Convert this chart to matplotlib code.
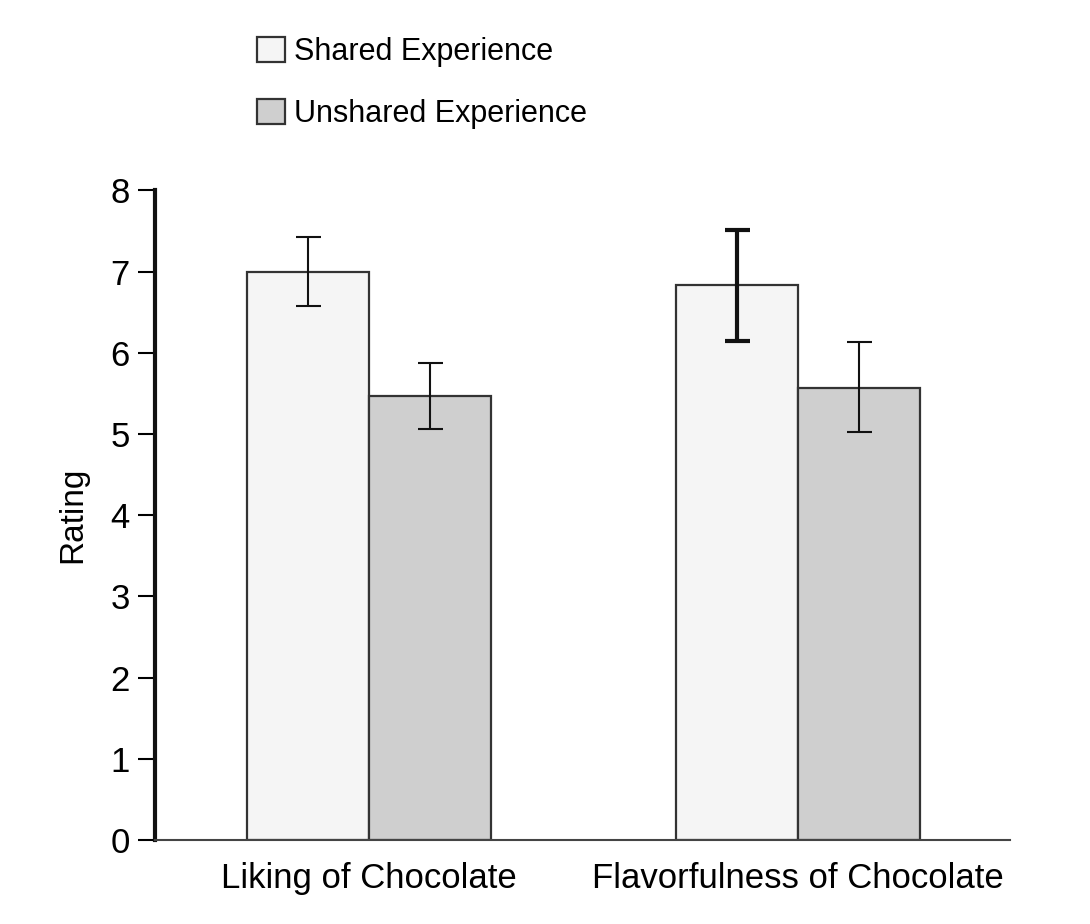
import matplotlib
matplotlib.use("Agg")
import matplotlib.pyplot as plt
import numpy as np
from matplotlib.patches import Patch

categories = ["Liking of Chocolate", "Flavorfulness of Chocolate"]
series = ["Shared Experience", "Unshared Experience"]
shared = [7.0, 6.84]
unshared = [5.47, 5.56]
shared_err_hi = [7.43, 7.51]
shared_err_lo = [6.57, 6.15]
unshared_err_hi = [5.87, 6.13]
unshared_err_lo = [5.06, 5.02]
yticks = [0, 1, 2, 3, 4, 5, 6, 7, 8]

plt.rcParams['font.family'] = ['Liberation Sans', 'DejaVu Sans']

fig = plt.figure(figsize=(10.9, 9.24), dpi=100)
ax = fig.add_axes([0.142, 0.091, 0.785, 0.703])

x = np.arange(len(categories))
w = 0.284
c_sh = "#f5f5f5"
c_un = "#cfcfcf"
ec = "#333333"

ax.bar(x - w/2, shared, w, color=c_sh, edgecolor=ec, linewidth=1.6, zorder=2)
ax.bar(x + w/2, unshared, w, color=c_un, edgecolor=ec, linewidth=1.6, zorder=2)

sh = np.array(shared); un = np.array(unshared)
err_sh = [sh - np.array(shared_err_lo), np.array(shared_err_hi) - sh]
err_un = [un - np.array(unshared_err_lo), np.array(unshared_err_hi) - un]
lws = [1.5, 3.0]
for i in range(len(categories)):
    ax.errorbar(x[i] - w/2, sh[i], yerr=[[err_sh[0][i]], [err_sh[1][i]]], fmt='none',
                ecolor='#111111', elinewidth=lws[i], capsize=9, capthick=lws[i], zorder=3)
    ax.errorbar(x[i] + w/2, un[i], yerr=[[err_un[0][i]], [err_un[1][i]]], fmt='none',
                ecolor='#111111', elinewidth=1.5, capsize=9, capthick=1.5, zorder=3)

ax.set_xlim(-0.5, 1.495)
ax.set_ylim(0, 8)
ax.set_yticks(yticks)
ax.set_yticklabels([str(t) for t in yticks], fontsize=25)
ax.set_xticks(x)
ax.set_xticklabels(categories, fontsize=25)
ax.tick_params(axis='x', length=0, pad=16)
ax.tick_params(axis='y', length=12, width=1.5, pad=6, direction='out')
for s in ['top', 'right']:
    ax.spines[s].set_visible(False)
ax.spines['left'].set_linewidth(3)
ax.spines['left'].set_color('#111111')
ax.spines['bottom'].set_linewidth(1.5)
ax.spines['bottom'].set_color('#444444')
ax.set_ylabel("Rating", fontsize=24, labelpad=16)

handles = [Patch(facecolor=c_sh, edgecolor=ec, linewidth=1.6),
           Patch(facecolor=c_un, edgecolor=ec, linewidth=1.6)]
fig.legend(handles, series, loc='upper left', bbox_to_anchor=(0.222, 0.977),
           frameon=False, fontsize=22, handlelength=0.9, handleheight=0.9,
           handletextpad=0.3, labelspacing=1.05, borderpad=0)

fig.savefig("out.png", dpi=100)
